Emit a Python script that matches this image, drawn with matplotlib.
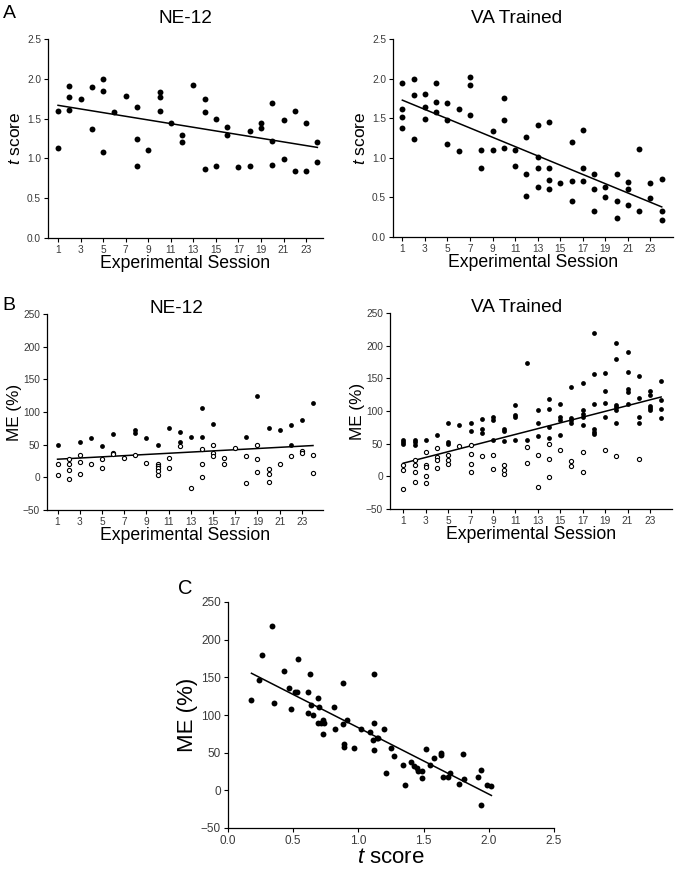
import numpy as np
import matplotlib
matplotlib.use("Agg")
import matplotlib.pyplot as plt

plt.rcParams['font.family'] = ['Liberation Sans', 'DejaVu Sans']
plt.rcParams['mathtext.fontset'] = 'custom'
plt.rcParams['mathtext.it'] = 'Liberation Sans:italic'
plt.rcParams['mathtext.rm'] = 'Liberation Sans'

sessions = np.arange(1, 25)
session_ticks = np.arange(1, 24, 2)

# t scores per session (panel A)
ne_tscore = [[1.60, 1.13], [1.91, 1.77, 1.61], [1.75], [1.90, 1.37], [2.00, 1.85, 1.08],
             [1.58], [1.78], [1.65, 1.24, 0.91], [1.10], [1.83, 1.77, 1.60], [1.45],
             [1.30, 1.21], [1.92], [1.75, 1.58, 0.87], [1.50, 0.91], [1.40, 1.30], [0.89],
             [1.34, 0.91], [1.45, 1.38], [1.70, 1.22, 0.92], [1.48, 0.99], [1.60, 0.84],
             [1.45, 0.84], [1.21, 0.95]]
va_tscore = [[1.94, 1.62, 1.51, 1.37], [1.99, 1.79, 1.24], [1.80, 1.64, 1.49], [1.94, 1.70, 1.58],
             [1.69, 1.48, 1.18], [1.62, 1.08], [2.02, 1.92, 1.54], [1.10, 0.87], [1.34, 1.10],
             [1.76, 1.48, 1.13], [1.10, 0.90], [1.26, 0.80, 0.52], [1.42, 1.01, 0.87, 0.63],
             [1.45, 0.87, 0.72, 0.60], [0.68], [1.20, 0.71, 0.46], [1.35, 0.87, 0.71],
             [0.80, 0.61, 0.33], [0.63, 0.51], [0.80, 0.46, 0.24], [0.69, 0.60, 0.41],
             [1.11, 0.33], [0.68, 0.49], [0.73, 0.33, 0.22]]

# ME (%) per session (panel B), filled and open symbols
ne_me_filled = [[50], [], [54], [60], [48], [67], [], [72, 68], [60], [50], [75], [70, 54],
                [62], [106, 61], [81], [], [], [62], [125], [76], [72], [80, 50], [87], [114]]
ne_me_open = [[21, 4], [28, 20, 11, -2], [34, 24, 5], [20], [28, 15], [38, 35], [30], [34],
              [22], [21, 18, 14, 9, 4], [30, 14], [48], [-16], [43, 20, 1], [50, 38, 32],
              [29, 20], [45], [33, -9], [50, 28, 8], [12, 5, -7], [21], [33], [40, 38], [34, 6]]
va_me_filled = [[56, 52, 50], [56, 52, 48], [55], [63], [82, 53, 50], [79], [82, 70],
                [88, 73, 67], [91, 86, 55], [73, 69, 54], [109, 94, 91, 56], [174, 56],
                [101, 82, 62], [118, 103, 76, 58], [111, 91, 86, 64], [137, 89, 86, 81],
                [143, 101, 95, 91, 78], [219, 156, 111, 72, 68, 65], [158, 131, 113, 91],
                [204, 179, 109, 106, 101, 82], [191, 160, 133, 129, 111], [154, 120, 91, 81],
                [131, 125, 108, 104, 101], [146, 117, 103, 90]]
va_me_open = [[18, 10, -19], [25, 18, 7, -8], [37, 18, 15, 0, -10], [43, 30, 25, 13],
              [32, 25, 19], [47], [48, 34, 19, 6], [31], [33, 11], [17, 9, 4], [], [45, 20],
              [32, -16], [49, 26, -1], [40], [23, 16], [37, 7], [], [41], [31], [], [27], [], []]

# panel C: t score vs ME (%)
c_tscore = [0.18, 0.24, 0.26, 0.34, 0.35, 0.43, 0.47, 0.48, 0.51, 0.53, 0.54, 0.61, 0.61,
            0.63, 0.64, 0.65, 0.69, 0.70, 0.69, 0.71, 0.73, 0.74, 0.73, 0.81, 0.82, 0.88,
            0.88, 0.89, 0.89, 0.91, 0.97, 1.02, 1.09, 1.12, 1.12, 1.11, 1.12, 1.14, 1.15,
            1.20, 1.21, 1.25, 1.27, 1.34, 1.36, 1.40, 1.43, 1.45, 1.46, 1.49, 1.49, 1.52,
            1.55, 1.58, 1.63, 1.63, 1.65, 1.70, 1.69, 1.77, 1.80, 1.81, 1.92, 1.94, 1.94,
            1.99, 2.02]
c_me = [120, 146, 179, 218, 116, 159, 136, 108, 130, 130, 174, 130, 102, 155, 113, 100, 123,
        110, 90, 89, 93, 89, 75, 111, 82, 142, 88, 61, 58, 94, 56, 82, 78, 90, 154, 67, 54,
        69, 69, 82, 23, 56, 45, 33, 7, 37, 32, 29, 26, 26, 17, 55, 34, 43, 50, 47, 18, 23,
        18, 8, 48, 15, 18, 27, -19, 7, 6]


def flatten(per_session):
    xs, ys = [], []
    for s, vals in zip(sessions, per_session):
        xs += [s] * len(vals)
        ys += vals
    return np.array(xs, dtype=float), np.array(ys, dtype=float)


def fit_line(ax, x, y, x0, x1):  # least squares line
    k, b = np.polyfit(x, y, 1)
    xx = np.array([x0, x1])
    ax.plot(xx, k * xx + b, color='black', lw=1.1, zorder=3)


def style(ax, fs):
    for sp in ['top', 'right']:
        ax.spines[sp].set_visible(False)
    for sp in ['left', 'bottom']:
        ax.spines[sp].set_linewidth(0.9)
    ax.tick_params(direction='out', length=3, width=0.8, labelsize=fs, labelcolor='#3a3a3a', pad=2)


fig = plt.figure(figsize=(6.75, 8.74), dpi=100)
W, H = 675.0, 874.0


def add_axes(l, t, r, b):  # pixel box -> figure fraction
    return fig.add_axes([l / W, 1 - b / H, (r - l) / W, (b - t) / H])


# ---- panel A ----
for data, box, xl, title, tx in [(ne_tscore, (48, 39, 323, 238), (0.11, 24.5), "NE-12", 0.5),
                                 (va_tscore, (393, 39, 673, 237), (0.17, 25.0), "VA Trained", 0.443)]:
    ax = add_axes(*box)
    x, y = flatten(data)
    ax.scatter(x, y, s=18, color='black', linewidths=0, zorder=4)
    fit_line(ax, x, y, 1, 24)
    ax.set_xlim(*xl)
    ax.set_ylim(0, 2.5)
    ax.set_yticks(np.arange(0, 2.51, 0.5))
    ax.set_yticklabels(["%.1f" % v for v in np.arange(0, 2.51, 0.5)])
    ax.set_xticks(session_ticks)
    style(ax, 7.3)
    ax.set_xlabel("Experimental Session", fontsize=12.7, labelpad=0)
    ax.set_ylabel("$t$ score", fontsize=12.5, labelpad=3)
    ax.text(tx, 1.105, title, transform=ax.transAxes, ha='center', va='center', fontsize=13.7)

# ---- panel B ----
for filled, opened, box, xl, title, tx in [
        (ne_me_filled, ne_me_open, (47, 314, 323, 510), (0.05, 24.9), "NE-12", 0.47),
        (va_me_filled, va_me_open, (390, 313, 672, 509), (-0.19, 24.97), "VA Trained", 0.45)]:
    ax = add_axes(*box)
    xf, yf = flatten(filled)
    xo, yo = flatten(opened)
    ax.scatter(xf, yf, s=12, color='black', linewidths=0, zorder=4)
    ax.scatter(xo, yo, s=9, facecolor='white', edgecolor='black', linewidths=0.8, zorder=4)
    fit_line(ax, np.concatenate([xf, xo]), np.concatenate([yf, yo]), 1, 24)
    ax.set_xlim(*xl)
    ax.set_ylim(-50, 250)
    ax.set_yticks(np.arange(-50, 251, 50))
    ax.set_xticks(session_ticks)
    style(ax, 7.3)
    ax.set_xlabel("Experimental Session", fontsize=12.7, labelpad=0)
    ax.set_ylabel("ME (%)", fontsize=12.3, labelpad=1)
    ax.text(tx, 1.03, title, transform=ax.transAxes, ha='center', va='center', fontsize=13.7)

# ---- panel C ----
ax = add_axes(228, 602, 554, 828)
cx = np.array(c_tscore)
cy = np.array(c_me)
ax.scatter(cx, cy, s=18, color='black', linewidths=0, zorder=4)
fit_line(ax, cx, cy, cx.min(), cx.max())
ax.set_xlim(0, 2.5)
ax.set_ylim(-50, 250)
ax.set_yticks(np.arange(-50, 251, 50))
ax.set_xticks(np.arange(0, 2.51, 0.5))
ax.set_xticklabels(["%.1f" % v for v in np.arange(0, 2.51, 0.5)])
style(ax, 8.5)
ax.set_xlabel("$t$ score", fontsize=16, labelpad=0)
ax.set_ylabel("ME (%)", fontsize=16, labelpad=2)

# panel letters
fig.text(3 / W, 1 - 13 / H, "A", fontsize=14, va='center', ha='left')
fig.text(2 / W, 1 - 306 / H, "B", fontsize=14, va='center', ha='left')
fig.text(178 / W, 1 - 588 / H, "C", fontsize=14.5, va='center', ha='left')

fig.savefig("out.png", dpi=100)
